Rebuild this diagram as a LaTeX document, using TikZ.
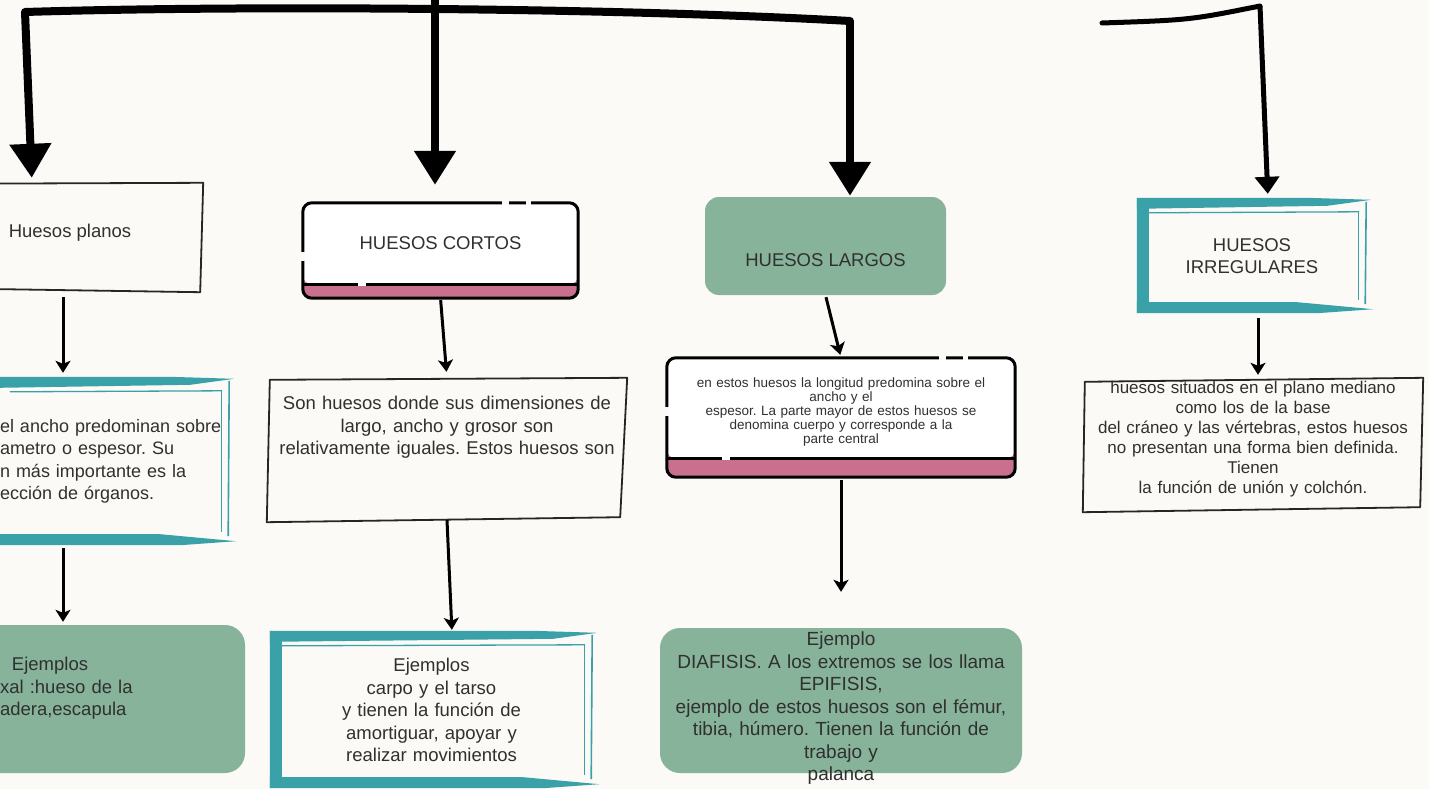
\documentclass[tikz,border=0pt]{standalone}
\usepackage{fontspec}
\setmainfont{Liberation Sans}
\usetikzlibrary{arrows.meta, calc, backgrounds}
\frenchspacing
\hyphenpenalty=10000

\definecolor{paper}{RGB}{252,250,246}
\definecolor{tealbrush}{RGB}{58,161,168}
\definecolor{sage}{RGB}{134,179,153}
\definecolor{rose}{RGB}{200,112,142}
\definecolor{ink}{RGB}{48,48,48}

\tikzset{
  sketch/.style={draw=black!85, line width=1.8pt, line join=round},
  conn/.style={line width=3pt, -{Stealth[length=12pt,width=15pt,inset=3pt]}},
  bigconn/.style={line width=8pt, -{Triangle[length=34pt,width=40pt]}},
  head/.style={font=\fontsize{18.5}{22.5}\selectfont, text=ink, align=center, inner sep=0pt},
  body/.style={font=\fontsize{18.5}{22.5}\selectfont, text=ink, align=center, inner sep=0pt},
  fine/.style={font=\fontsize{13.5}{14}\selectfont, text=ink, align=center, inner sep=0pt},
}

% teal brush strokes round a node
\newcommand{\tealframe}[1]{%
  \fill[tealbrush] ([yshift=2pt]#1.north west) -- ([xshift=-60pt,yshift=2pt]#1.north east) -- ([xshift=4pt]#1.north east) -- ([xshift=-40pt,yshift=-6pt]#1.north east) -- ([yshift=-9pt]#1.north west) -- cycle;
  \draw[tealbrush, line width=1.3pt] ([xshift=10pt,yshift=-13pt]#1.north west) -- ([xshift=-8pt,yshift=-12pt]#1.north east);
  \draw[tealbrush, line width=1.6pt] ([xshift=-1pt,yshift=-2pt]#1.north east) -- ([xshift=-2pt,yshift=8pt]#1.south east);
  \draw[tealbrush, line width=1.2pt] ([xshift=-9pt,yshift=-12pt]#1.north east) -- ([xshift=-9pt,yshift=12pt]#1.south east);
  \fill[tealbrush] ([yshift=10pt]#1.south west) -- ([xshift=-70pt,yshift=10pt]#1.south east) -- ([xshift=6pt,yshift=3pt]#1.south east) -- ([xshift=-50pt,yshift=-1pt]#1.south east) -- ([yshift=-1pt]#1.south west) -- cycle;
}
\newcommand{\tealside}[1]{%
  \fill[tealbrush] ([yshift=2pt]#1.north west) -- ([xshift=12pt,yshift=-6pt]#1.north west) -- ([xshift=12pt,yshift=8pt]#1.south west) -- ([yshift=-1pt]#1.south west) -- cycle;
}
% white card with a rose band at the bottom
\newcommand{\cardframe}[2]{%
  \fill[rose, rounded corners=9pt] (#1.north west) rectangle (#1.south east);
  \fill[white, rounded corners=9pt] (#1.north west) rectangle ([yshift=#2]#1.south east);
  \draw[line width=3pt, rounded corners=9pt] (#1.north west) rectangle (#1.south east);
  \draw[line width=3pt] ([yshift=#2]#1.south west) -- ([yshift=#2]#1.south east);
  % gaps in the outline
  \draw[paper, line width=4.5pt] ([xshift=-76pt]#1.north east) -- ++(7pt,0pt);
  \draw[paper, line width=4.5pt] ([xshift=-52pt]#1.north east) -- ++(5pt,0pt);
  \draw[paper, line width=4.5pt] ([yshift=-49pt]#1.north west) -- ++(0pt,-9pt);
  \draw[white, line width=4pt] ([xshift=55pt,yshift=#2]#1.south west) -- ++(8pt,0pt);
}

\begin{document}
\begin{tikzpicture}[x=1pt, y=-1pt]
\useasboundingbox (0,0) rectangle (1429,789);

% Huesos planos
\node[head, minimum width=266pt, minimum height=106pt, text depth=11.5pt] (planos) at (70,237) {Huesos planos};
\node[body, font=\fontsize{18}{22.5}\selectfont, align=left, text width=230pt, minimum height=165pt] (planosB) at (115,461.5) {el ancho predominan sobre\\ametro o espesor. Su\\n más importante es la\\ección de órganos.};
\node[body, align=left, fill=sage, rounded corners=20pt, text width=275pt, minimum height=148pt, text depth=70pt] (planosE) at (107.5,699) {\hspace*{42pt}Ejemplos\\\hspace*{30pt}xal :hueso de la\\\hspace*{30pt}adera,escapula};

% Huesos cortos
\node[head, minimum width=275pt, minimum height=95pt, text depth=15pt] (cortos) at (440.5,250.5) {HUESOS CORTOS};
\node[body, text width=350pt, minimum width=354pt, minimum height=141pt, text depth=92.5pt] (cortosB) at (447,449.5) {Son huesos donde sus dimensiones de\\largo, ancho y grosor son\\relativamente iguales. Estos huesos son};
\node[body, text width=300pt, minimum width=323pt, minimum height=154pt] (cortosE) at (431.5,710) {Ejemplos\\carpo y el tarso\\y tienen la función de\\amortiguar, apoyar y\\realizar movimientos};

% Huesos largos
\node[head, fill=sage, rounded corners=14pt, minimum width=241pt, minimum height=98pt, text height=40pt, text depth=0pt] (largos) at (825.5,246) {HUESOS LARGOS};
\node[fine, text width=330pt, minimum width=348pt, minimum height=119pt, text depth=70pt] (largosB) at (841,417.5) {en estos huesos la longitud predomina sobre el\\ancho y el\\espesor. La parte mayor de estos huesos se\\denomina cuerpo y corresponde a la\\parte central};
\node[body, font=\fontsize{19}{22.5}\selectfont, fill=sage, rounded corners=20pt, text width=355pt, minimum width=362pt, minimum height=145pt, text depth=123pt] (largosE) at (841,700.5) {Ejemplo\\DIAFISIS. A los extremos se los llama\\EPIFISIS,\\ejemplo de estos huesos son el fémur,\\tibia, húmero. Tienen la función de\\trabajo y\\palanca};

% Huesos irregulares
\node[head, minimum width=230pt, minimum height=112pt] (irreg) at (1252,256) {HUESOS\\IRREGULARES};
\node[body, font=\fontsize{17}{20}\selectfont, text width=335pt, minimum width=338pt, minimum height=130pt, text depth=116pt] (irregB) at (1253,445) {huesos situados en el plano mediano\\como los de la base\\del cráneo y las vértebras, estos huesos\\no presentan una forma bien definida.\\Tienen\\la función de unión y colchón.};

\begin{scope}[on background layer]
  \fill[paper] (0,0) rectangle (1429,789);
  % hand drawn boxes
  \draw[sketch] (planos.north west) -- ([yshift=1pt]planos.north east) -- ([xshift=-3pt,yshift=-2pt]planos.south east) -- ([yshift=2pt]planos.south west) -- cycle;
  \draw[sketch] ([yshift=-1pt]cortosB.north west) -- ([xshift=3pt,yshift=1pt]cortosB.north east) -- ([xshift=-4pt,yshift=3pt]cortosB.south east) -- ([xshift=-3pt,yshift=-2pt]cortosB.south west) -- cycle;
  \draw[sketch] ([xshift=1pt,yshift=-2pt]irregB.north west) -- ([xshift=1pt,yshift=2pt]irregB.north east) -- ([xshift=-2pt,yshift=3pt]irregB.south east) -- ([xshift=-1pt,yshift=-2pt]irregB.south west) -- cycle;
  % teal frames
  \tealframe{planosB}
  \tealframe{cortosE} \tealside{cortosE}
  \tealframe{irreg} \tealside{irreg}
  % cards
  \cardframe{cortos}{14pt}
  \cardframe{largosB}{19pt}
\end{scope}

% Connectors from the top
\coordinate (root) at (435,-10);
\coordinate (barL) at (25,12);
\coordinate (barR) at (850,21);
\draw[line width=8pt, line cap=round] (barL) .. controls (250,5) and (620,8) .. (barR);
\draw[bigconn, shorten >=6pt] (barL) -- ([xshift=-38pt]planos.north);
\draw[bigconn, shorten >=18pt] (root) -- ([xshift=-5.5pt]cortos.north);
\draw[bigconn, shorten >=1pt] (barR) -- ([xshift=24.5pt]largos.north);

\coordinate (irrA) at (1102,23);
\coordinate (irrB) at (1260,6);
\draw[line width=5pt, line cap=round] (irrA) .. controls (1190,20) .. (irrB);
\draw[line width=5pt, -{Triangle[length=17pt,width=24pt]}, shorten >=6pt] (irrB) -- ([xshift=16pt]irreg.north);

% Connectors between boxes
\draw[conn, shorten <=7pt, shorten >=6pt] ([xshift=-7pt]planos.south) -- ([xshift=-52pt]planosB.north);
\draw[conn, shorten <=4pt, shorten >=3pt] ([xshift=-52pt]planosB.south) -- ([xshift=-44.5pt]planosE.north);
\draw[conn, shorten <=2pt, shorten >=7pt] (cortos.south) -- (cortosB.north);
\draw[conn, shorten >=3pt] (cortosB.south) -- ([xshift=20.5pt]cortosE.north);
\draw[conn, shorten <=2pt, shorten >=3pt] (largos.south) -- (largosB.north);
\draw[conn, shorten <=3pt, shorten >=36pt] (largosB.south) -- (largosE.north);
\draw[conn, shorten <=6pt, shorten >=5pt] ([xshift=6pt]irreg.south) -- ([xshift=5pt]irregB.north);
\end{tikzpicture}
\end{document}
